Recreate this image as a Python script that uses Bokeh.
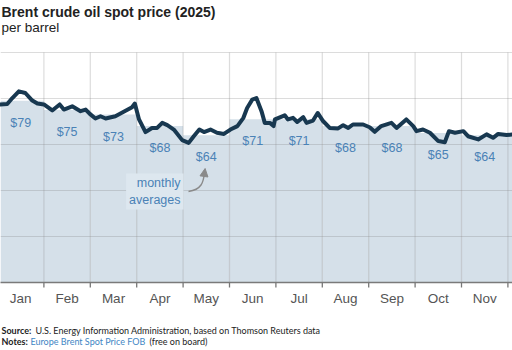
from bokeh.plotting import figure
from bokeh.models import (Range1d, FixedTicker, Grid, Label, Arrow, NormalHead,
                          ColumnDataSource)
from bokeh.core.properties import value
from bokeh.embed import file_html
from bokeh.resources import INLINE

# ---- data ----
months = ["Jan", "Feb", "Mar", "Apr", "May", "Jun", "Jul", "Aug", "Sep", "Oct", "Nov", "Dec"]
monthly_avg = [79, 75, 73, 68, 64, 71, 71, 68, 68, 65, 64, 64]
avg_labels = ["$79", "$75", "$73", "$68", "$64", "$71", "$71", "$68", "$68", "$65", "$64"]
tick_labels = ["Jan", "Feb", "Mar", "Apr", "May", "Jun", "Jul", "Aug", "Sep", "Oct", "Nov"]

# position along the year in months (0 = Jan 1), daily-ish Brent spot price
pos = [0.06, 0.21, 0.32, 0.46, 0.60, 0.75, 0.86, 1.00, 1.18, 1.34, 1.43, 1.61, 1.79, 1.90,
       1.99, 2.11, 2.22, 2.33, 2.54, 2.72, 2.90, 2.96, 3.05, 3.19, 3.33, 3.44, 3.55, 3.66,
       3.80, 3.98, 4.12, 4.23, 4.35, 4.45, 4.59, 4.73, 4.88, 5.02, 5.17, 5.30, 5.38, 5.49,
       5.58, 5.69, 5.76, 5.87, 5.95, 5.98, 6.19, 6.26, 6.37, 6.46, 6.59, 6.66, 6.80, 6.90,
       7.02, 7.16, 7.34, 7.45, 7.56, 7.66, 7.88, 8.02, 8.13, 8.27, 8.49, 8.60, 8.81, 8.96,
       9.03, 9.17, 9.32, 9.50, 9.64, 9.73, 9.86, 10.04, 10.14, 10.36, 10.54, 10.68, 10.79,
       10.97, 11.10, 11.20]
price = [77.4, 77.6, 80.2, 83.1, 82.4, 79.1, 77.8, 77.4, 74.8, 77.4, 75.2, 76.6, 74.5, 75.2,
         73.3, 71.3, 72.3, 71.3, 72.3, 74.2, 76.2, 77.8, 70.9, 65.4, 67.2, 67.2, 69.4, 68.4,
         66.5, 61.9, 60.7, 63.6, 66.5, 65.4, 66.5, 65.1, 64.6, 66.5, 68.0, 71.6, 75.9, 79.5,
         80.2, 74.5, 69.4, 69.4, 68.0, 70.9, 72.7, 70.9, 71.6, 69.8, 71.9, 69.4, 70.4, 73.7,
         70.1, 67.2, 67.0, 68.4, 67.2, 68.7, 68.7, 67.5, 65.5, 68.0, 69.4, 67.2, 70.9, 68.0,
         65.8, 66.5, 65.1, 61.5, 61.0, 65.8, 65.1, 65.8, 63.6, 62.2, 64.4, 62.9, 64.6,
         64.1, 64.4, 64.0]

y_grid_values = [20, 40, 60, 80, 100]
y_top = 100

# ---- figure (frame covers the whole canvas) ----
W, H = 512, 350
px_per_month = 46.4
x_start = 3 / px_per_month
frame_top_px, axis_px = 52, 282
px_per_unit = (axis_px - frame_top_px) / y_top
y_lo = -(H - axis_px) / px_per_unit
y_hi = y_top + frame_top_px / px_per_unit

p = figure(width=W, height=H, output_backend="svg", toolbar_location=None,
           x_range=Range1d(x_start, x_start + W / px_per_month),
           y_range=Range1d(y_lo, y_hi),
           x_axis_location=None, y_axis_location=None,
           min_border=0)
p.outline_line_color = None
p.background_fill_color = "white"
p.border_fill_color = "white"
p.grid.visible = False

centers = [i + 0.5 for i in range(len(months))]
bounds = list(range(0, len(months) + 1))

# bars (monthly averages)
p.vbar(x=centers, top=monthly_avg, width=1.0, bottom=0, fill_color="#d5e0e9",
       line_color=None)

# grid over the bars
p.segment(x0=bounds, y0=[0] * len(bounds), x1=bounds, y1=[y_top] * len(bounds),
          line_color="#808080", line_alpha=0.28, line_width=1.2)
yg = Grid(dimension=1, ticker=FixedTicker(ticks=y_grid_values), grid_line_color="#808080",
          grid_line_alpha=0.28, grid_line_width=1.2, level="glyph")
p.add_layout(yg)

# average labels
src = ColumnDataSource(dict(x=centers[:len(avg_labels)],
                            y=monthly_avg[:len(avg_labels)],
                            t=avg_labels))
p.text(x="x", y="y", text="t", source=src, text_align="center", text_baseline="middle",
       y_offset=22, text_font=value("Liberation Sans"), text_font_size="12.5px",
       text_color="#4a82b6", level="overlay")

# price line
p.line(pos, price, line_color="#183850", line_width=4, line_join="round",
       line_cap="round", level="overlay")

# x axis drawn by hand
tick_len = 5 / px_per_unit
p.segment(x0=[x_start], y0=[0], x1=[x_start + W / px_per_month], y1=[0],
          line_color="#7a7a7a", line_width=1.6, level="overlay")
p.segment(x0=bounds, y0=[0] * len(bounds), x1=bounds, y1=[-tick_len] * len(bounds),
          line_color="#777777", line_width=1.3, level="overlay")
p.text(x=centers[:len(tick_labels)], y=[0] * len(tick_labels), text=tick_labels,
       text_align="center", text_baseline="middle", y_offset=16,
       text_font=value("Liberation Sans"), text_font_size="13.5px", text_color="#555555")

# "monthly averages" callout
p.add_layout(Label(x=183, y=H - 191, x_units="screen", y_units="screen",
                   text="monthly\naverages", text_align="right", text_baseline="middle",
                   text_font="Liberation Sans", text_font_size="12.5px",
                   text_color="#4a82b6", text_line_height=1.15,
                   background_fill_color="#dde7ef", padding=3))
mx = lambda s: x_start + s / px_per_month
my = lambda s: (axis_px - s) / px_per_unit
p.bezier(x0=[mx(188)], y0=[my(191)], x1=[mx(204)], y1=[my(172)],
         cx0=[mx(201)], cy0=[my(189)], cx1=[mx(203)], cy1=[my(182)],
         line_color="#8a8a8a", line_width=1.4, level="overlay")
p.add_layout(Arrow(x_start=mx(203.6), y_start=my(175), x_end=mx(204.6), y_end=my(168),
                   line_color="#8a8a8a", line_width=1.4,
                   end=NormalHead(size=8, fill_color="#8a8a8a", line_color="#8a8a8a"),
                   level="overlay"))

# titles
p.add_layout(Label(x=1, y=H - 11, x_units="screen", y_units="screen",
                   text="Brent crude oil spot price (2025)", text_baseline="middle",
                   text_font="Liberation Sans", text_font_style="bold",
                   text_font_size="14px", text_color="#222222"))
p.add_layout(Label(x=1, y=H - 27, x_units="screen", y_units="screen",
                   text="per barrel", text_baseline="middle",
                   text_font="Liberation Sans", text_font_size="13.5px",
                   text_color="#222222"))

# footnotes
fn_font = "Lato"
fn_size = "9px"
p.add_layout(Label(x=1, y=H - 330, x_units="screen", y_units="screen",
                   text="Source:", text_baseline="middle",
                   text_font=fn_font, text_font_style="bold", text_font_size=fn_size,
                   text_color="#222222"))
p.add_layout(Label(x=35, y=H - 330, x_units="screen", y_units="screen",
                   text="U.S. Energy Information Administration, based on Thomson Reuters data",
                   text_baseline="middle", text_font=fn_font, text_font_size=fn_size,
                   text_color="#222222"))
p.add_layout(Label(x=1, y=H - 341, x_units="screen", y_units="screen",
                   text="Notes:", text_baseline="middle",
                   text_font=fn_font, text_font_style="bold", text_font_size=fn_size,
                   text_color="#222222"))
p.add_layout(Label(x=30, y=H - 341, x_units="screen", y_units="screen",
                   text="Europe Brent Spot Price FOB", text_baseline="middle",
                   text_font=fn_font, text_font_size=fn_size, text_color="#3f86c4"))
p.add_layout(Label(x=149, y=H - 341, x_units="screen", y_units="screen",
                   text="(free on board)", text_baseline="middle",
                   text_font=fn_font, text_font_size=fn_size, text_color="#222222"))

open("out.html", "w").write(file_html(p, INLINE))
